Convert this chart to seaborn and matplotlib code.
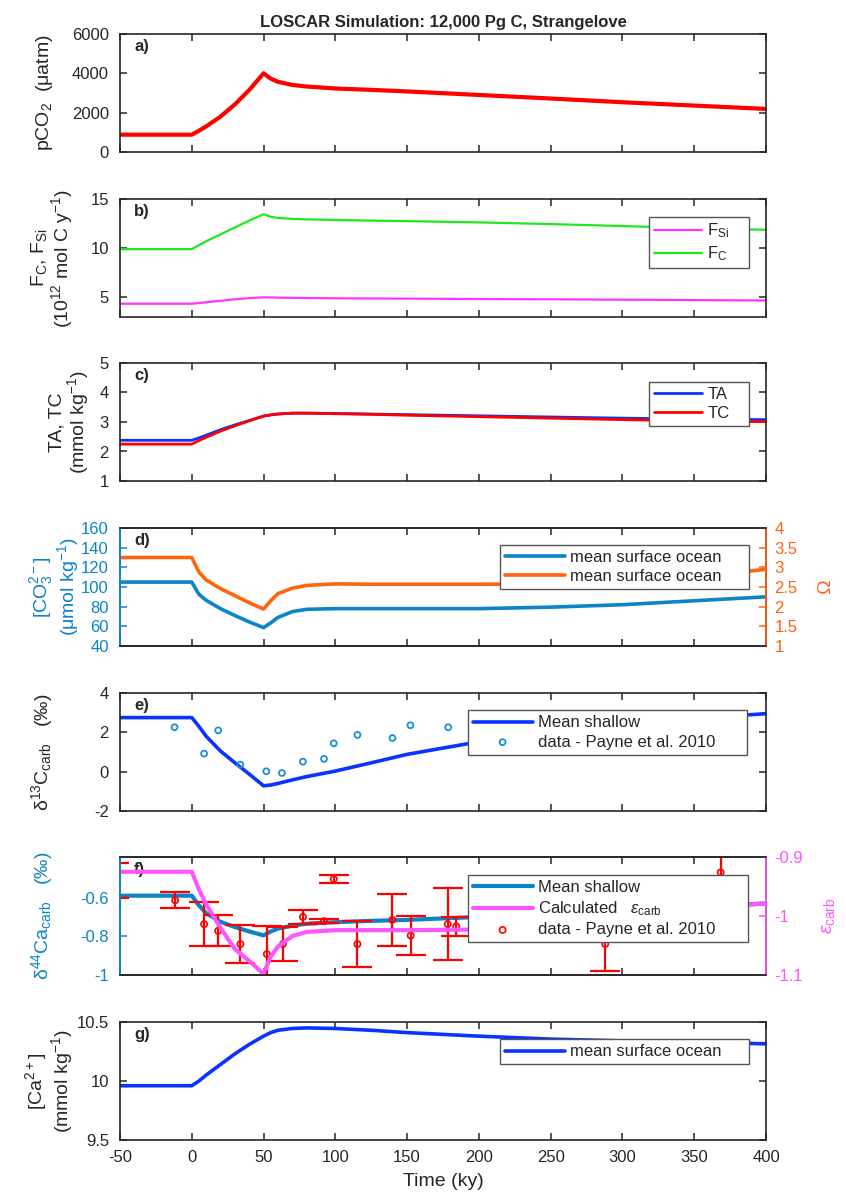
import matplotlib
matplotlib.use("Agg")
import matplotlib.pyplot as plt
from matplotlib.ticker import FormatStrFormatter
import seaborn as sns

# model output, time in ky
time_ky = [-50, 0, 5, 10, 20, 30, 40, 50, 55, 60, 70, 80, 100, 125, 150, 200, 250, 300, 350, 400]
pco2 = [880, 880, 1080, 1300, 1800, 2420, 3150, 4000, 3730, 3570, 3410, 3330, 3230, 3160, 3080,
        2900, 2720, 2530, 2360, 2190]
f_c = [9.9, 9.9, 10.3, 10.7, 11.4, 12.1, 12.8, 13.45, 13.2, 13.07, 12.98, 12.93, 12.87, 12.8,
       12.75, 12.62, 12.45, 12.25, 12.03, 11.87]
f_si = [4.35, 4.35, 4.42, 4.5, 4.65, 4.8, 4.92, 5.0, 4.99, 4.97, 4.95, 4.93, 4.9, 4.88, 4.87,
        4.83, 4.8, 4.76, 4.72, 4.68]
ta = [2.38, 2.38, 2.46, 2.55, 2.74, 2.9, 3.05, 3.2, 3.24, 3.27, 3.3, 3.3, 3.29, 3.27, 3.25,
      3.21, 3.17, 3.13, 3.1, 3.08]
tc = [2.25, 2.25, 2.37, 2.48, 2.69, 2.87, 3.04, 3.2, 3.24, 3.27, 3.3, 3.3, 3.28, 3.26, 3.23,
      3.18, 3.13, 3.08, 3.04, 3.01]
co3 = [105, 105, 92.5, 86.5, 78, 71, 64.5, 58.7, 63.5, 69, 75, 77.3, 78, 78, 78, 78, 79.5, 82, 86, 90]
omega = [3.25, 3.25, 2.88, 2.68, 2.46, 2.28, 2.1, 1.94, 2.15, 2.33, 2.47, 2.54, 2.58, 2.57,
         2.57, 2.57, 2.58, 2.62, 2.76, 2.95]
d13c = [2.75, 2.75, 2.3, 1.8, 1.05, 0.45, -0.12, -0.72, -0.68, -0.6, -0.42, -0.25, 0.03, 0.45,
        0.88, 1.52, 1.98, 2.38, 2.7, 2.95]
d44ca = [-0.59, -0.59, -0.64, -0.68, -0.725, -0.752, -0.775, -0.795, -0.775, -0.76, -0.745,
         -0.735, -0.727, -0.72, -0.715, -0.70, -0.685, -0.668, -0.65, -0.63]
eps_carb = [-0.925, -0.925, -0.955, -0.98, -1.02, -1.056, -1.076, -1.098, -1.069, -1.052, -1.034,
            -1.027, -1.024, -1.024, -1.024, -1.023, -1.018, -1.005, -0.99, -0.978]
ca = [9.96, 9.96, 10.0, 10.05, 10.14, 10.23, 10.31, 10.38, 10.41, 10.43, 10.445, 10.45, 10.445,
      10.43, 10.41, 10.38, 10.355, 10.34, 10.33, 10.315]

# Payne et al. 2010 data
c13_time = [-12.0, 8.6, 18.4, 33.8, 51.9, 62.8, 77.4, 92.1, 98.9, 115.4, 139.8, 152.3, 178.6]
c13_val = [2.26, 0.92, 2.1, 0.36, 0.02, -0.07, 0.51, 0.65, 1.44, 1.87, 1.71, 2.36, 2.26]
ca44_time = [-54, -11.6, 8.6, 18.3, 33.9, 52.3, 63.5, 77.4, 92, 98.9, 115.4, 139.7, 152.5,
             178.3, 184.2, 288, 368.4]
ca44_val = [-0.51, -0.614, -0.737, -0.772, -0.84, -0.892, -0.84, -0.70, -0.722, -0.504, -0.84,
            -0.715, -0.796, -0.737, -0.749, -0.84, -0.47]
ca44_err = [0.09, 0.041, 0.115, 0.08, 0.1, 0.144, 0.086, 0.036, 0.01, 0.02, 0.12, 0.135, 0.1,
            0.185, 0.05, 0.14, 0.1]

sns.set_style("ticks")
plt.rcParams.update({
    "font.family": ["Liberation Sans", "DejaVu Sans"],
    "mathtext.fontset": "custom",
    "mathtext.rm": "Liberation Sans",
    "mathtext.it": "Liberation Sans:italic",
    "mathtext.bf": "Liberation Sans:bold",
    "axes.unicode_minus": False,
    "axes.edgecolor": "#262626",
    "axes.linewidth": 1.2,
    "xtick.direction": "in",
    "ytick.direction": "in",
    "xtick.major.size": 5,
    "ytick.major.size": 5,
    "xtick.major.width": 1.1,
    "ytick.major.width": 1.1,
    "xtick.major.pad": 7,
    "ytick.major.pad": 8,
    "xtick.labelsize": 12,
    "ytick.labelsize": 12,
    "xtick.color": "#262626",
    "ytick.color": "#262626",
    "axes.labelsize": 14,
    "axes.labelcolor": "#262626",
})

RED = "#ff0000"
GREEN = "#22e622"
MAGENTA = "#ff33ff"
BLUE = "#0a33ff"
CBLUE = "#0b84c8"
ORANGE = "#ff6410"
PINK = "#ff55ff"
DOTBLUE = "#1a8fd8"

fig = plt.figure(figsize=(8.46, 11.94), dpi=100)
tops = [34, 199, 363, 528, 693, 857, 1022]
axes = [fig.add_axes([120 / 846, 1 - (t + 118) / 1194, 646 / 846, 118 / 1194]) for t in tops]


def style(ax, box=True):
    ax.set_xlim(-50, 400)
    ax.set_xticks(range(-50, 401, 50))
    ax.tick_params(top=True, right=box)
    for s in ax.spines.values():
        s.set_visible(True)


def legend(ax, handles, labels, x0, top, w, h, hl=3.6):
    leg = ax.legend(handles, labels, loc="upper left", bbox_to_anchor=(x0, top - h, w, h),
                    mode="expand", borderaxespad=0, handlelength=hl, handletextpad=0.3,
                    borderpad=0.3, labelspacing=0.25, fancybox=False, framealpha=1,
                    edgecolor="#555555", fontsize=12)
    leg.get_frame().set_linewidth(1.0)
    return leg


def tag(ax, s):
    ax.text(0.022, 0.86, s, transform=ax.transAxes, fontsize=12, fontweight="bold")


# a) pCO2
ax = axes[0]
sns.lineplot(x=time_ky, y=pco2, ax=ax, color=RED, lw=3)
style(ax)
ax.set_ylim(0, 6000)
ax.set_yticks([0, 2000, 4000, 6000])
ax.set_ylabel("pCO$_2$  (μatm)")
ax.yaxis.set_label_coords(-0.1, 0.5)
ax.set_title("LOSCAR Simulation: 12,000 Pg C, Strangelove", fontsize=12, fontweight="bold", pad=5)
tag(ax, "a)")

# b) weathering fluxes
ax = axes[1]
sns.lineplot(x=time_ky, y=f_si, ax=ax, color=MAGENTA, lw=1.6, label="F$_{\\mathrm{Si}}$")
sns.lineplot(x=time_ky, y=f_c, ax=ax, color=GREEN, lw=1.6, label="F$_{\\mathrm{C}}$")
style(ax)
ax.set_ylim(3, 15)
ax.set_yticks([5, 10, 15])
ax.set_ylabel("F$_{\\mathrm{C}}$, F$_{\\mathrm{Si}}$\n(10$^{12}$ mol C y$^{-1}$)", linespacing=1.0)
ax.yaxis.set_label_coords(-0.07, 0.5)
h, l = ax.get_legend_handles_labels()
legend(ax, h, l, 0.819, 0.85, 0.155, 0.52, hl=2.9)
tag(ax, "b)")

# c) TA, TC
ax = axes[2]
sns.lineplot(x=time_ky, y=ta, ax=ax, color=BLUE, lw=2, label="TA")
sns.lineplot(x=time_ky, y=tc, ax=ax, color=RED, lw=2, label="TC")
style(ax)
ax.set_ylim(1, 5)
ax.set_yticks([1, 2, 3, 4, 5])
ax.set_ylabel("TA, TC\n(mmol kg$^{-1}$)", linespacing=1.0)
ax.yaxis.set_label_coords(-0.045, 0.5)
h, l = ax.get_legend_handles_labels()
legend(ax, h, l, 0.819, 0.842, 0.155, 0.4, hl=2.9)
tag(ax, "c)")

# d) carbonate ion and saturation
ax = axes[3]
sns.lineplot(x=time_ky, y=co3, ax=ax, color=CBLUE, lw=2.6, label="mean surface ocean")
style(ax, box=False)
ax.set_ylim(40, 160)
ax.set_yticks(range(40, 161, 20))
ax.tick_params(axis="y", colors=CBLUE)
ax.spines["left"].set_color(CBLUE)
ax.set_ylabel("[CO$_3^{2-}$]\n(μmol kg$^{-1}$)", color=CBLUE, linespacing=1.0)
ax.yaxis.set_label_coords(-0.06, 0.5)
ax2 = ax.twinx()
sns.lineplot(x=time_ky, y=omega, ax=ax2, color=ORANGE, lw=2.6, label="mean surface ocean")
ax2.set_ylim(1, 4)
ax2.set_yticks([1, 1.5, 2, 2.5, 3, 3.5, 4])
ax2.yaxis.set_major_formatter(FormatStrFormatter("%g"))
ax2.tick_params(axis="y", colors=ORANGE, direction="in", pad=6)
ax2.spines["right"].set_color(ORANGE)
ax2.spines["left"].set_color(CBLUE)
ax2.set_ylabel("Ω", color=ORANGE, labelpad=14)
ax.get_legend().remove()
h1, l1 = ax.get_legend_handles_labels()
h2, l2 = ax2.get_legend_handles_labels()
legend(ax2, h1 + h2, l1 + l2, 0.588, 0.858, 0.385, 0.4)
tag(ax, "d)")

# e) d13C
ax = axes[4]
sns.lineplot(x=time_ky, y=d13c, ax=ax, color=BLUE, lw=2.6, label="Mean shallow")
sns.scatterplot(x=c13_time, y=c13_val, ax=ax, marker="o", s=18, facecolor="none",
                edgecolor=DOTBLUE, linewidth=1.3, label="data - Payne et al. 2010", zorder=3)
style(ax)
ax.set_ylim(-2, 4)
ax.set_yticks([-2, 0, 2, 4])
ax.set_ylabel("δ$^{13}$C$_{\\mathrm{carb}}$   (‰)")
ax.yaxis.set_label_coords(-0.1, 0.5)
h, l = ax.get_legend_handles_labels()
legend(ax, h, l, 0.538, 0.853, 0.433, 0.4)
tag(ax, "e)")

# f) d44Ca and fractionation
ax = axes[5]
sns.lineplot(x=time_ky, y=d44ca, ax=ax, color=CBLUE, lw=3, label="Mean shallow")
ax.errorbar(ca44_time, ca44_val, yerr=ca44_err, fmt="none", ecolor=RED, elinewidth=1.6,
            capsize=11, capthick=1.6, zorder=3)
sns.scatterplot(x=ca44_time, y=ca44_val, ax=ax, marker="o", s=20, facecolor="none",
                edgecolor=RED, linewidth=1.2, label="data - Payne et al. 2010", zorder=4)
style(ax, box=False)
ax.set_ylim(-1, -0.39)
ax.set_yticks([-1, -0.8, -0.6])
ax.yaxis.set_major_formatter(FormatStrFormatter("%g"))
ax.tick_params(axis="y", colors=CBLUE)
ax.spines["left"].set_color(CBLUE)
ax.set_ylabel("δ$^{44}$Ca$_{\\mathrm{carb}}$   (‰)", color=CBLUE)
ax.yaxis.set_label_coords(-0.1, 0.5)
ax2 = ax.twinx()
sns.lineplot(x=time_ky, y=eps_carb, ax=ax2, color=PINK, lw=3,
             label="Calculated   $\\epsilon_{\\mathrm{carb}}$")
ax2.set_ylim(-1.1, -0.9)
ax2.set_yticks([-1.1, -1, -0.9])
ax2.yaxis.set_major_formatter(FormatStrFormatter("%g"))
ax2.tick_params(axis="y", colors=PINK, direction="in", pad=6)
ax2.spines["right"].set_color(PINK)
ax2.spines["left"].set_color(CBLUE)
ax2.set_ylabel("$\\epsilon_{\\mathrm{carb}}$", color=PINK, labelpad=12)
ax.get_legend().remove()
h1, l1 = ax.get_legend_handles_labels()
h2, l2 = ax2.get_legend_handles_labels()
legend(ax2, [h1[0], h2[0], h1[1]], [l1[0], l2[0], l1[1]], 0.538, 0.845, 0.434, 0.63)
tag(ax, "f)")

# g) calcium
ax = axes[6]
sns.lineplot(x=time_ky, y=ca, ax=ax, color=BLUE, lw=2.6, label="mean surface ocean")
style(ax)
ax.set_ylim(9.5, 10.5)
ax.set_yticks([9.5, 10, 10.5])
ax.yaxis.set_major_formatter(FormatStrFormatter("%g"))
ax.set_ylabel("[Ca$^{2+}$]\n(mmol kg$^{-1}$)", linespacing=1.0)
ax.yaxis.set_label_coords(-0.07, 0.5)
ax.set_xlabel("Time (ky)", labelpad=6)
h, l = ax.get_legend_handles_labels()
legend(ax, h, l, 0.588, 0.853, 0.385, 0.24)
tag(ax, "g)")

for a in axes[:-1]:
    a.tick_params(labelbottom=False)

fig.savefig("out.png", dpi=100)
